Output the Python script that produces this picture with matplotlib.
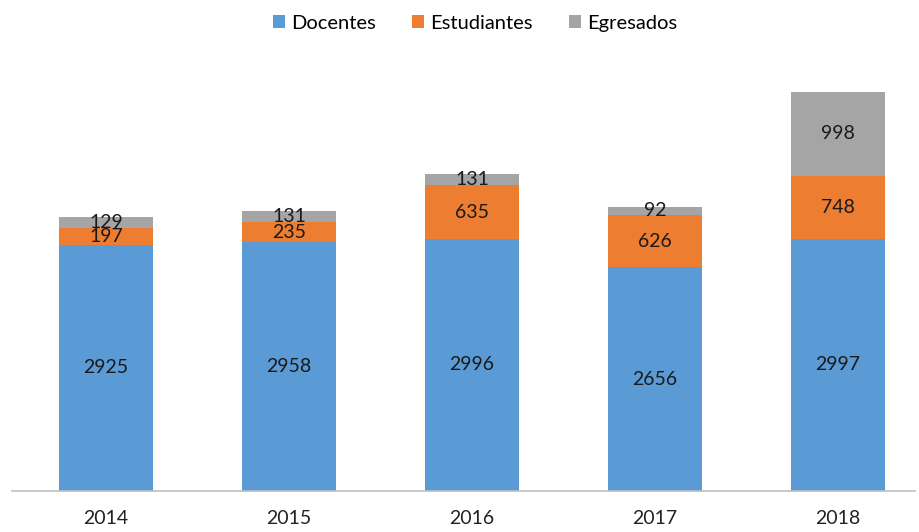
import numpy as np
import matplotlib
matplotlib.use("Agg")
import matplotlib.pyplot as plt

years = ["2014", "2015", "2016", "2017", "2018"]
docentes = [2925, 2958, 2996, 2656, 2997]
estudiantes = [197, 235, 635, 626, 748]
egresados = [129, 131, 131, 92, 998]

plt.rcParams["font.family"] = ["Lato", "DejaVu Sans"]

fig = plt.figure(figsize=(9.2, 5.32), dpi=100)
ax = fig.add_axes([12 / 920, 41 / 532, 903 / 920, 421 / 532])

x = np.arange(len(years))
w = 0.51
doc = np.array(docentes)
est = np.array(estudiantes)
egr = np.array(egresados)

b1 = ax.bar(x, doc, w, color="#5B9BD5", label="Docentes")
b2 = ax.bar(x, est, w, bottom=doc, color="#ED7D31", label="Estudiantes")
b3 = ax.bar(x, egr, w, bottom=doc + est, color="#A5A5A5", label="Egresados")

for bars in (b1, b2, b3):
    ax.bar_label(bars, label_type="center", fontsize=14, color="#1a1a1a")

ax.set_xlim(-0.513, 4.42)
ax.set_ylim(0, 5000)
ax.set_xticks(x)
ax.set_xticklabels(years, fontsize=14, color="#222222")
ax.tick_params(axis="x", length=0, pad=14)
ax.set_yticks([])
for s in ["top", "right", "left"]:
    ax.spines[s].set_visible(False)
ax.spines["bottom"].set_color("#BFBFBF")
ax.spines["bottom"].set_linewidth(1.2)

fig.legend(handles=[b1, b2, b3], loc="upper center", bbox_to_anchor=(0.516, 1.006),
           ncol=3, frameon=False, fontsize=14.5, handlelength=0.6, handleheight=0.6,
           handletextpad=0.3, columnspacing=1.8)

fig.savefig("out.png", dpi=100)
